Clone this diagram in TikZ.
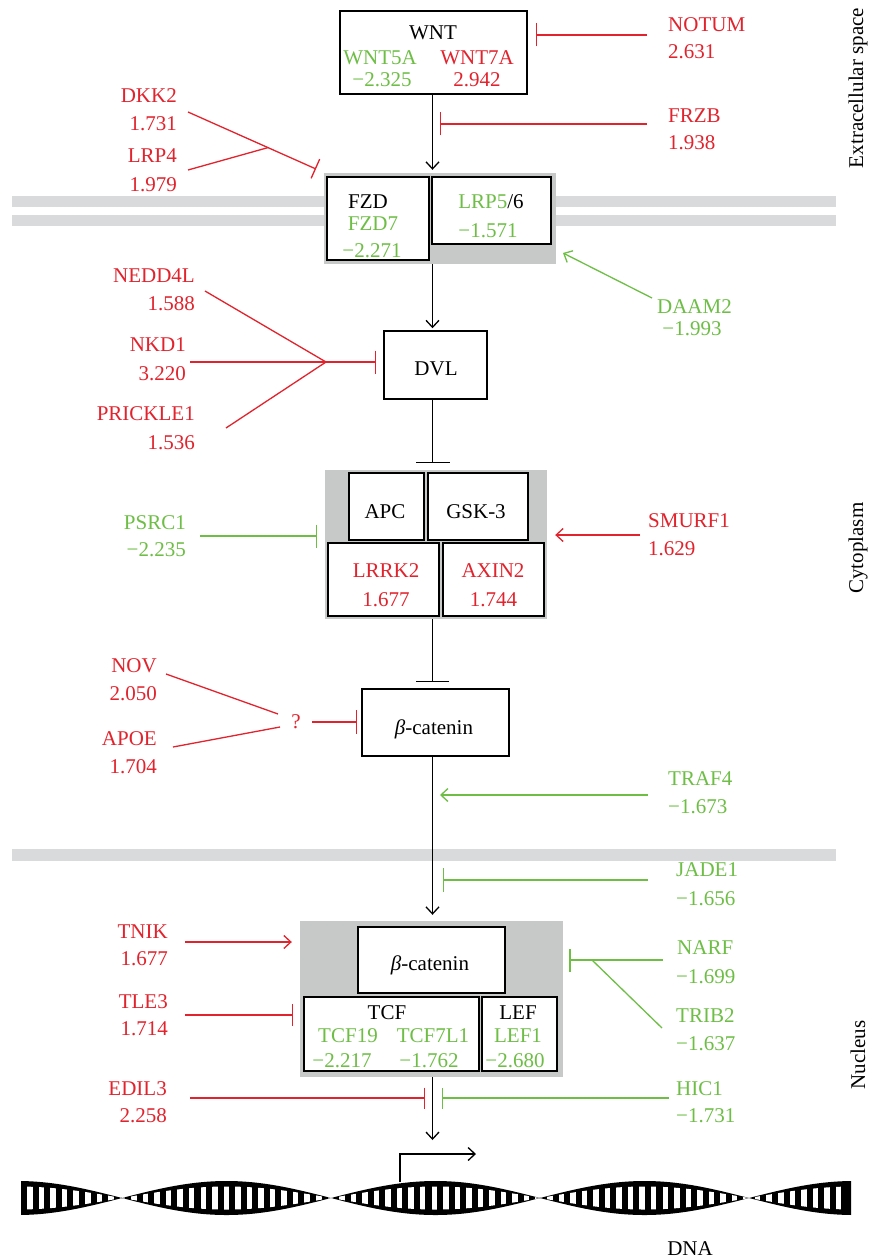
\documentclass[tikz,border=0pt]{standalone}
\usepackage{fontspec}
\setmainfont{Liberation Serif}
\usetikzlibrary{arrows.meta}
\definecolor{rd}{RGB}{226,35,45}
\definecolor{gn}{RGB}{110,190,70}
\definecolor{cgray}{RGB}{199,200,200}
\definecolor{mgray}{RGB}{217,218,219}
\tikzset{
  lab/.style={font=\fontsize{21}{25}\selectfont, inner sep=0pt},
  box/.style={draw=black, line width=1.5pt, fill=white, inner sep=0pt},
  cplx/.style={fill=cgray, inner sep=0pt},
  act/.style={-{Straight Barb[length=7pt,width=13pt]}, line width=1.3pt},
  inh/.style={-{Bar[width=#1]}, line width=1.3pt},
  inh/.default=23pt,
  link/.style={line width=1.3pt}
}
\begin{document}
\begin{tikzpicture}[x=1pt,y=-1pt]
\useasboundingbox (0,0) rectangle (870,1260);
\fill[white] (0,0) rectangle (870,1260);

% membranes
\fill[mgray] (12,196) rectangle (836,207);
\fill[mgray] (12,215) rectangle (836,226);
\fill[mgray] (12,849) rectangle (836,861);

% compartment labels
\node[lab, rotate=90] (ecs) at (858,88) {Extracellular space};
\node[lab, rotate=90] (cyt) at (858,548) {Cytoplasm};
\node[lab, rotate=90] (nucl) at (858,1055) {Nucleus};

% WNT
\node[box, minimum width=187pt, minimum height=83pt] (wnt) at (433.5,52.5) {};
\node[lab, anchor=base] (wntt) at (433,40) {WNT};
\node[lab, anchor=base, text=gn] (wnt5a) at (380,65) {WNT5A};
\node[lab, anchor=base, text=rd] (wnt7a) at (477,65) {WNT7A};
\node[lab, anchor=base, text=gn] (wnt5av) at (382,87) {−2.325};
\node[lab, anchor=base, text=rd] (wnt7av) at (477,87) {2.942};

% FZD complex
\node[cplx, minimum width=232pt, minimum height=91pt] (fzdc) at (440,218.5) {};
\node[box, minimum width=102pt, minimum height=83pt] (fzd) at (378,218.5) {};
\node[box, minimum width=119pt, minimum height=67pt] (lrp) at (491.5,210.5) {};
\node[lab, anchor=base] (fzdt) at (368,208) {FZD};
\node[lab, anchor=base, text=gn] (fzd7) at (373,230) {FZD7};
\node[lab, anchor=base, text=gn] (fzd7v) at (372,257) {−2.271};
\node[lab, anchor=base] (lrpt) at (491,208) {\textcolor{gn}{LRP5}/6};
\node[lab, anchor=base, text=gn] (lrpv) at (488,237) {−1.571};

% DVL
\node[box, minimum width=103pt, minimum height=68pt] (dvl) at (435.5,365) {};
\node[lab, anchor=base] (dvlt) at (436,375) {DVL};

% destruction complex
\node[cplx, minimum width=222pt, minimum height=149pt] (dc) at (436,544.5) {};
\node[box, minimum width=75pt, minimum height=67pt] (apc) at (386.5,506.5) {};
\node[box, minimum width=100pt, minimum height=67pt] (gsk) at (478,506.5) {};
\node[box, minimum width=111pt, minimum height=73pt] (lrrk) at (383.5,579.5) {};
\node[box, minimum width=101pt, minimum height=73pt] (axin) at (493.5,579.5) {};
\node[lab, anchor=base] (apct) at (385,518) {APC};
\node[lab, anchor=base] (gskt) at (476,518) {GSK-3};
\node[lab, anchor=base, text=rd] (lrrkt) at (386,577) {LRRK2};
\node[lab, anchor=base, text=rd] (lrrkv) at (386,606) {1.677};
\node[lab, anchor=base, text=rd] (axint) at (493,577) {AXIN2};
\node[lab, anchor=base, text=rd] (axinv) at (493.5,606) {1.744};

% beta-catenin cytoplasm
\node[box, minimum width=147pt, minimum height=67pt] (bc1) at (435.5,722.5) {};
\node[lab, anchor=base] (bc1t) at (434,734) {{\itshape β}-catenin};

% nuclear complex
\node[cplx, minimum width=263pt, minimum height=156pt] (nuc) at (431.5,999) {};
\node[box, minimum width=147pt, minimum height=66pt] (bc2) at (431.5,960) {};
\node[box, minimum width=175pt, minimum height=74pt] (tcf) at (391.5,1034) {};
\node[box, minimum width=75pt, minimum height=74pt] (lef) at (519.5,1034) {};
\node[lab, anchor=base] (bc2t) at (430,970) {{\itshape β}-catenin};
\node[lab, anchor=base] (tcft) at (387,1019) {TCF};
\node[lab, anchor=base, text=gn] (tcf19) at (348,1042) {TCF19};
\node[lab, anchor=base, text=gn] (tcf7l1) at (433,1042) {TCF7L1};
\node[lab, anchor=base, text=gn] (tcf19v) at (342,1067) {−2.217};
\node[lab, anchor=base, text=gn] (tcf7l1v) at (429,1067) {−1.762};
\node[lab, anchor=base] (left) at (518,1019) {LEF};
\node[lab, anchor=base, text=gn] (lef1) at (518,1042) {LEF1};
\node[lab, anchor=base, text=gn] (lef1v) at (515,1067) {−2.680};

% right-side labels
\node[lab, anchor=base west, text=rd] (notum) at (668,32) {NOTUM};
\node[lab, anchor=base west, text=rd] (notumv) at (668,59) {2.631};
\node[lab, anchor=base west, text=rd] (frzb) at (668,123) {FRZB};
\node[lab, anchor=base west, text=rd] (frzbv) at (668,150) {1.938};
\node[lab, anchor=base, text=gn] (daam) at (694.5,313) {DAAM2};
\node[lab, anchor=base, text=gn] (daamv) at (692,335) {−1.993};
\node[lab, anchor=base west, text=rd] (smurf) at (648,527) {SMURF1};
\node[lab, anchor=base west, text=rd] (smurfv) at (648,555) {1.629};
\node[lab, anchor=base west, text=gn] (traf) at (668,785) {TRAF4};
\node[lab, anchor=base west, text=gn] (trafv) at (668,813) {−1.673};
\node[lab, anchor=base west, text=gn] (jade) at (676,876) {JADE1};
\node[lab, anchor=base west, text=gn] (jadev) at (676,905) {−1.656};
\node[lab, anchor=base west, text=gn] (narf) at (677,954) {NARF};
\node[lab, anchor=base west, text=gn] (narfv) at (676,983) {−1.699};
\node[lab, anchor=base west, text=gn] (trib) at (676,1022) {TRIB2};
\node[lab, anchor=base west, text=gn] (tribv) at (676,1050) {−1.637};
\node[lab, anchor=base west, text=gn] (hic) at (676,1095) {HIC1};
\node[lab, anchor=base west, text=gn] (hicv) at (676,1122) {−1.731};

% left-side labels
\node[lab, anchor=base east, text=rd] (dkk) at (177,103) {DKK2};
\node[lab, anchor=base east, text=rd] (dkkv) at (177,131) {1.731};
\node[lab, anchor=base east, text=rd] (lrp4) at (177,163) {LRP4};
\node[lab, anchor=base east, text=rd] (lrp4v) at (177,192) {1.979};
\node[lab, anchor=base east, text=rd] (nedd) at (195,282) {NEDD4L};
\node[lab, anchor=base east, text=rd] (neddv) at (195,310) {1.588};
\node[lab, anchor=base east, text=rd] (nkd) at (186,351) {NKD1};
\node[lab, anchor=base east, text=rd] (nkdv) at (186,380) {3.220};
\node[lab, anchor=base east, text=rd] (prick) at (195,420) {PRICKLE1};
\node[lab, anchor=base east, text=rd] (prickv) at (195,449) {1.536};
\node[lab, anchor=base east, text=gn] (psrc) at (186,529) {PSRC1};
\node[lab, anchor=base east, text=gn] (psrcv) at (186,556) {−2.235};
\node[lab, anchor=base east, text=rd] (nov) at (157,672) {NOV};
\node[lab, anchor=base east, text=rd] (novv) at (157,700) {2.050};
\node[lab, anchor=base east, text=rd] (apoe) at (157,745) {APOE};
\node[lab, anchor=base east, text=rd] (apoev) at (157,773) {1.704};
\node[lab, anchor=base, text=rd] (q) at (296,728) {?};
\node[lab, anchor=base east, text=rd] (tnik) at (168,938) {TNIK};
\node[lab, anchor=base east, text=rd] (tnikv) at (168,965) {1.677};
\node[lab, anchor=base east, text=rd] (tle) at (168,1008) {TLE3};
\node[lab, anchor=base east, text=rd] (tlev) at (168,1035) {1.714};
\node[lab, anchor=base east, text=rd] (edil) at (167,1095) {EDIL3};
\node[lab, anchor=base east, text=rd] (edilv) at (167,1122) {2.258};
\node[lab, anchor=base] (dnat) at (690,1255) {DNA};

% main axis connectors
\coordinate (ax) at (432.5,0);
\coordinate (dnaarr) at (432.5,1140);
\draw[act, shorten >=3pt] (ax |- wnt.south) -- (ax |- fzdc.north);
\draw[act, shorten >=2pt] (ax |- fzdc.south) -- (ax |- dvl.north);
\draw[inh=34pt, shorten >=7pt] (ax |- dvl.south) -- (ax |- dc.north);
\draw[inh=33pt, shorten >=6pt] (ax |- dc.south) -- (ax |- bc1.north);
\draw[act, shorten >=6pt] (ax |- bc1.south) -- (ax |- nuc.north);
\draw[act] (ax |- nuc.south) -- (dnaarr);

% regulator connectors
\coordinate (cnotum) at (647,35);
\coordinate (enotum) at (536,35);
\draw[rd, inh] (cnotum) -- (enotum);
\coordinate (cfrzb) at (647,124);
\coordinate (efrzb) at (440,124);
\draw[rd, inh] (cfrzb) -- (efrzb);
\coordinate (cdkk) at (188,112);
\coordinate (edkk) at (316,169);
\coordinate (jdkk) at (268,147.6);
\coordinate (clrp4) at (188,170);
\draw[rd, inh=21pt] (cdkk) -- (edkk);
\draw[rd, link] (clrp4) -- (jdkk);
\coordinate (cnedd) at (205,291);
\coordinate (jdvl) at (326,362);
\coordinate (cnkd) at (190,362);
\coordinate (cprick) at (226,428);
\draw[rd, link] (cnedd) -- (jdvl);
\draw[rd, link] (cprick) -- (jdvl);
\draw[rd, inh=23pt, shorten >=7pt] (cnkd) -- (cnkd -| dvl.west);
\coordinate (cdaam) at (652,298);
\coordinate (edaam) at (563,253);
\draw[gn, act] (cdaam) -- (edaam);
\coordinate (cpsrc) at (200,536);
\draw[gn, inh, shorten >=8pt] (cpsrc) -- (cpsrc -| dc.west);
\coordinate (csmurf) at (640,535);
\draw[rd, act, shorten >=8pt] (csmurf) -- (csmurf -| dc.east);
\coordinate (cnov) at (166,674);
\coordinate (enov) at (278,714);
\coordinate (capoe) at (173,747);
\coordinate (eapoe) at (280,727);
\draw[rd, link] (cnov) -- (enov);
\draw[rd, link] (capoe) -- (eapoe);
\coordinate (cq) at (312,722);
\draw[rd, inh=24pt, shorten >=4pt] (cq) -- (cq -| bc1.west);
\coordinate (ctraf) at (648,795);
\coordinate (etraf) at (440,795);
\draw[gn, act] (ctraf) -- (etraf);
\coordinate (cjade) at (648,880);
\coordinate (ejade) at (443,880);
\draw[gn, inh=24pt] (cjade) -- (ejade);
\coordinate (ctnik) at (185,942);
\draw[rd, act, shorten >=8pt] (ctnik) -- (ctnik -| nuc.west);
\coordinate (ctle) at (185,1015);
\draw[rd, inh=22pt, shorten >=7pt] (ctle) -- (ctle -| nuc.west);
\coordinate (cnarf) at (663,960);
\coordinate (jnarf) at (592,960);
\coordinate (ctrib) at (662,1028);
\draw[gn, inh=23pt, shorten >=6pt] (cnarf) -- (cnarf -| nuc.east);
\draw[gn, link] (ctrib) -- (jnarf);
\coordinate (cedil) at (190,1098);
\coordinate (eedil) at (425,1098);
\draw[rd, inh=21pt] (cedil) -- (eedil);
\coordinate (chic) at (669,1098);
\coordinate (ehic) at (442,1098);
\draw[gn, inh=21pt] (chic) -- (ehic);

% DNA
\fill[black] plot[domain=21:851,samples=400,variable=\t] ({\t},{1198-17*abs(cos(0.861244*(\t-17.5)))})
  -- plot[domain=851:21,samples=400,variable=\t] ({\t},{1198+17*abs(cos(0.861244*(\t-17.5)))}) -- cycle;
\begin{scope}
  \clip plot[domain=21:851,samples=400,variable=\t] ({\t},{1198-11.5*abs(cos(0.861244*(\t-17.5)))})
    -- plot[domain=851:21,samples=400,variable=\t] ({\t},{1198+11.5*abs(cos(0.861244*(\t-17.5)))}) -- cycle;
  \foreach \i in {0,...,70} {
    \fill[white] ({30-2.75+11.55*\i},1170) rectangle ++(5.5,60);
  }
\end{scope}
\coordinate (tss) at (400,1182);
\coordinate (tssk) at (400,1154);
\coordinate (tsse) at (476,1154);
\draw[act] (tss) -- (tssk) -- (tsse);
\end{tikzpicture}
\end{document}
